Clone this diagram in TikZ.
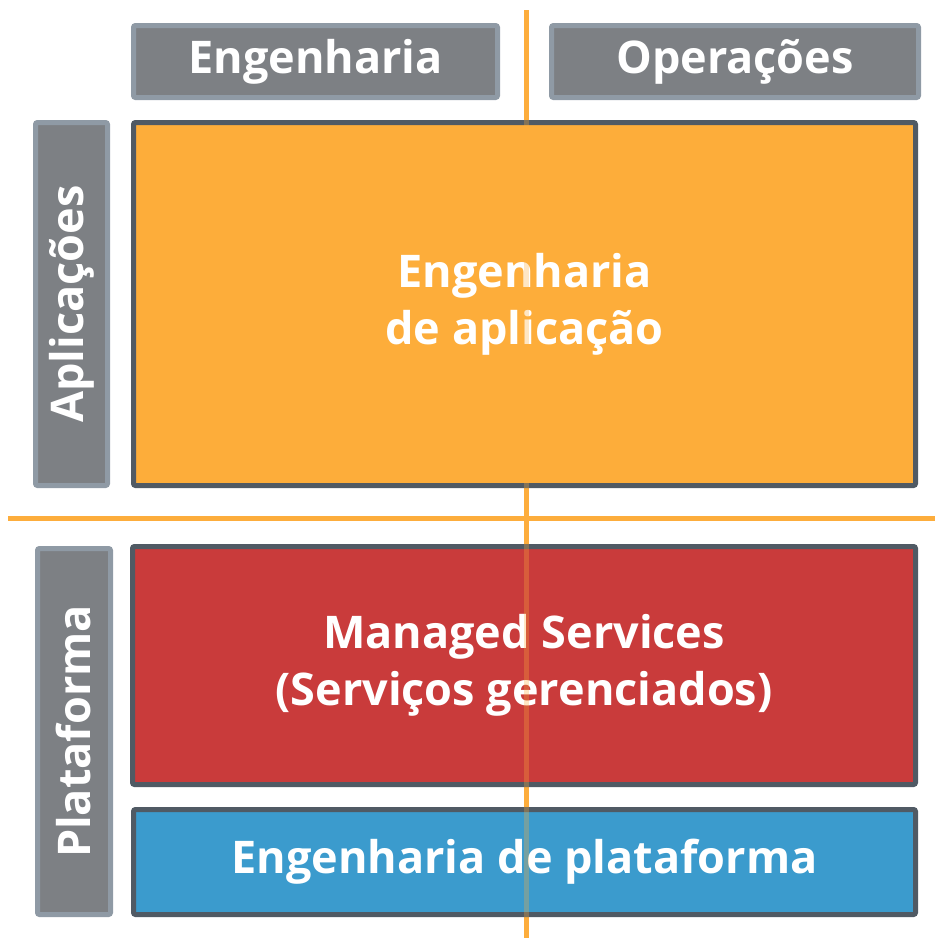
\documentclass[tikz,border=0pt]{standalone}
\usepackage{fontspec}
\setmainfont{Open Sans}
\definecolor{headgray}{HTML}{7D8084}
\definecolor{headline}{HTML}{8F9AA5}
\definecolor{boxline}{HTML}{505A64}
\definecolor{appfill}{HTML}{FDAD3A}
\definecolor{msfill}{HTML}{C93B3B}
\definecolor{platfill}{HTML}{3B9BCD}
\definecolor{axisorange}{HTML}{FDAD3C}
\begin{document}
\begin{tikzpicture}[x=1pt,y=-1pt,
    headbox/.style={draw=headline,fill=headgray,line width=5pt,rounded corners=2pt,
      text=white,font=\fontsize{45}{50}\selectfont\bfseries,inner sep=0pt},
    mainbox/.style={draw=boxline,line width=5pt,rounded corners=2pt,
      text=white,font=\fontsize{45}{57}\selectfont\bfseries,align=center,inner sep=0pt},
    axisline/.style={draw=axisorange,line width=5pt}]
      \useasboundingbox (0,0) rectangle (935,938);
      \def\midx{526}
      \def\midy{518}

      \coordinate (vtop) at (\midx,10);
      \coordinate (vbot) at (\midx,938);
      \coordinate (hleft) at (8,\midy);
      \coordinate (hright) at (935,\midy);
      \draw[axisline] (vtop) -- (vbot);
      \draw[axisline] (hleft) -- (hright);

      % column and row headers
      \node[headbox,minimum width=364,minimum height=72] (eng) at (315.5,61.5) {Engenharia};
      \node[headbox,minimum width=367,minimum height=72] (ops) at (735,61.5) {Operações};
      \node[headbox,rotate=90,minimum width=363,minimum height=72] (apps) at (71.5,304) {Aplicações};
      \node[headbox,rotate=90,minimum width=366,minimum height=73] (plat) at (74,731.5) {Plataforma};

      % quadrants
      \node[mainbox,fill=appfill,minimum width=782,minimum height=363] (appeng) at (524.5,304) {Engenharia\\de aplicação};
      \node[mainbox,fill=msfill,minimum width=783,minimum height=238] (managed) at (524,665.5) {Managed Services\\(Serviços gerenciados)};
      \node[mainbox,fill=platfill,minimum width=782,minimum height=105] (plateng) at (524.5,862) {Engenharia de plataforma};

      \draw[axisline,draw opacity=0.3] (vtop) -- (vbot);
      \draw[axisline,draw opacity=0.3] (hleft) -- (hright);
    \end{tikzpicture}
\end{document}
